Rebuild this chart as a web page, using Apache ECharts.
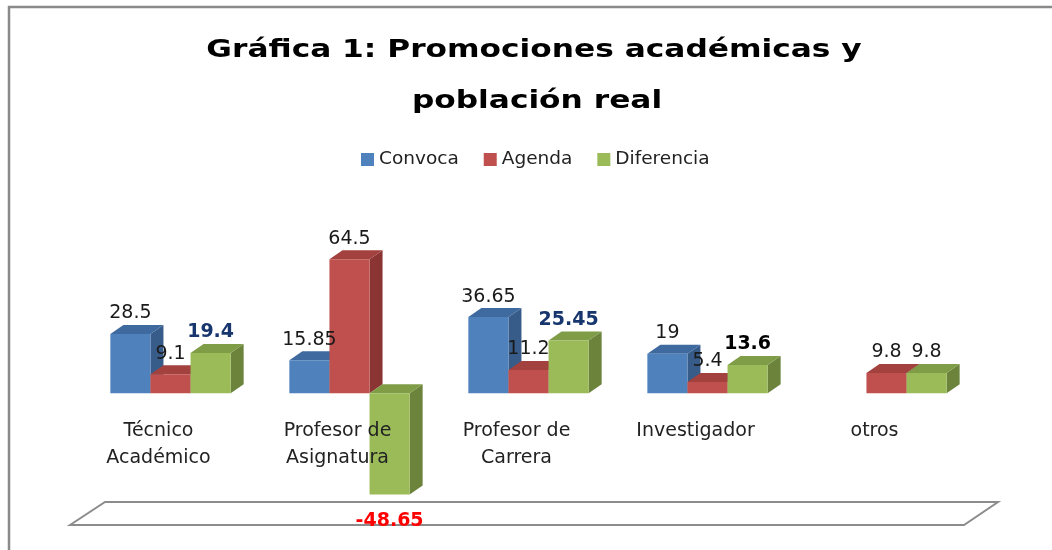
<!DOCTYPE html>
<html>
<head>
<meta charset="utf-8">
<script src="https://cdn.jsdelivr.net/npm/echarts@6/dist/echarts.min.js"></script>
<style>
  html, body { margin: 0; padding: 0; background: #fff; }
  #chart { width: 1052px; height: 550px; }
</style>
</head>
<body>
<div id="chart"></div>
<script>
// datos de la gráfica
var categories = ['Técnico\nAcadémico', 'Profesor de\nAsignatura', 'Profesor de\nCarrera', 'Investigador', 'otros'];
var convoca = [28.5, 15.85, 36.65, 19, null];
var agenda = [9.1, 64.5, 11.2, 5.4, 9.8];
var diferencia = [19.4, -48.65, 25.45, 13.6, 9.8];
var seriesNames = ['Convoca', 'Agenda', 'Diferencia'];

// colores: frente, arriba, lado
var colors = [
    ['#4f81bd', '#3e6a9f', '#375c89'],
    ['#c0504d', '#a3413e', '#8a3533'],
    ['#9bbb59', '#7f9c47', '#6b833b']
];
// etiquetas de Diferencia con formato especial
var boldNavy = { fill: '#17366e', font: 'bold 19px "DejaVu Sans"' };
var difLabelStyle = [boldNavy, { fill: '#ff0000', font: 'bold 19px "DejaVu Sans"' }, boldNavy, { fill: '#000', font: 'bold 19px "DejaVu Sans"' }, null];

var DX = 13, DY = 9;
var Y_MIN = -60, Y_MAX = 80;
var GRID_TOP = 227, GRID_H = 291;

function makeSeries(idx, values, labelStyles) {
    return {
        name: seriesNames[idx],
        type: 'custom',
        itemStyle: { color: colors[idx][0] },
        clip: false,
        data: values.map(function (v, i) { return [i, v]; }),
        renderItem: function (params, api) {
            var v = api.value(1);
            if (v == null || isNaN(v)) return null;
            var i = api.value(0);
            var base = api.coord([i, 0]);
            var end = api.coord([i, v]);
            var w = api.size([1, 0])[0] * 0.224;
            var x0 = base[0] + (idx - 1.5) * w;
            var yTop = Math.min(base[1], end[1]);
            var yBot = Math.max(base[1], end[1]);
            var c = colors[idx];
            var st = { fill: '#1a1a1a', font: '19px "DejaVu Sans"' };
            if (labelStyles && labelStyles[params.dataIndex]) st = labelStyles[params.dataIndex];
            var neg = v < 0;
            return {
                type: 'group',
                children: [
                    { type: 'polygon', shape: { points: [[x0 + w, yTop], [x0 + w + DX, yTop - DY], [x0 + w + DX, yBot - DY], [x0 + w, yBot]] }, style: { fill: c[2] } },
                    { type: 'polygon', shape: { points: [[x0, yTop], [x0 + w, yTop], [x0 + w + DX, yTop - DY], [x0 + DX, yTop - DY]] }, style: { fill: c[1] } },
                    { type: 'rect', shape: { x: x0, y: yTop, width: w, height: yBot - yTop }, style: { fill: c[0] } },
                    {
                        type: 'text',
                        x: x0 + w / 2,
                        y: neg ? yBot + 17 : yTop - 11,
                        z2: 50,
                        style: {
                            text: String(v),
                            fill: st.fill,
                            font: st.font,
                            align: 'center',
                            verticalAlign: neg ? 'top' : 'bottom'
                        }
                    }
                ]
            };
        }
    };
}

var option = {
    animation: false,
    backgroundColor: '#fff',
    graphic: [
        { type: 'polyline', z: -10, shape: { points: [[9, 550], [9, 7], [1052, 7]] }, style: { stroke: '#8a8a8a', lineWidth: 2.5, fill: null } },
        { type: 'polygon', z: -10, shape: { points: [[70, 525], [105, 502], [998, 502], [964, 525]] }, style: { stroke: '#8c8c8c', lineWidth: 2, fill: '#fff' } },
        { type: 'text', x: 534, y: 50, scaleX: 1.25, style: { text: 'Gráfica 1: Promociones académicas y', font: 'bold 25px "DejaVu Sans"', fill: '#000', align: 'center', verticalAlign: 'middle' } },
        { type: 'text', x: 537, y: 101, scaleX: 1.25, style: { text: 'población real', font: 'bold 25px "DejaVu Sans"', fill: '#000', align: 'center', verticalAlign: 'middle' } }
    ],
    legend: {
        data: seriesNames,
        icon: 'rect',
        itemWidth: 13,
        itemHeight: 13,
        itemGap: 25,
        left: 356,
        top: 145,
        textStyle: { fontFamily: 'DejaVu Sans', fontSize: 18.5, color: '#222' }
    },
    grid: { left: 81, width: 895, top: GRID_TOP, height: GRID_H, outerBoundsMode: 'none', containLabel: false },
    xAxis: {
        type: 'category',
        data: categories,
        z: 5,
        // subir el eje hasta el valor cero
        offset: -GRID_H * (0 - Y_MIN) / (Y_MAX - Y_MIN),
        axisLine: { show: false, onZero: false },
        axisTick: { show: false },
        axisLabel: {
            margin: 24,
            fontFamily: 'DejaVu Sans',
            fontSize: 19,
            lineHeight: 27,
            color: '#222',
            padding: [0, 24, 0, 0]
        }
    },
    yAxis: {
        type: 'value',
        min: Y_MIN,
        max: Y_MAX,
        show: false,
        splitLine: { show: false }
    },
    series: [
        makeSeries(0, convoca, null),
        makeSeries(1, agenda, null),
        makeSeries(2, diferencia, difLabelStyle)
    ]
};

var mychart = echarts.init(document.getElementById('chart'));
mychart.setOption(option);
</script>
</body>
</html>
